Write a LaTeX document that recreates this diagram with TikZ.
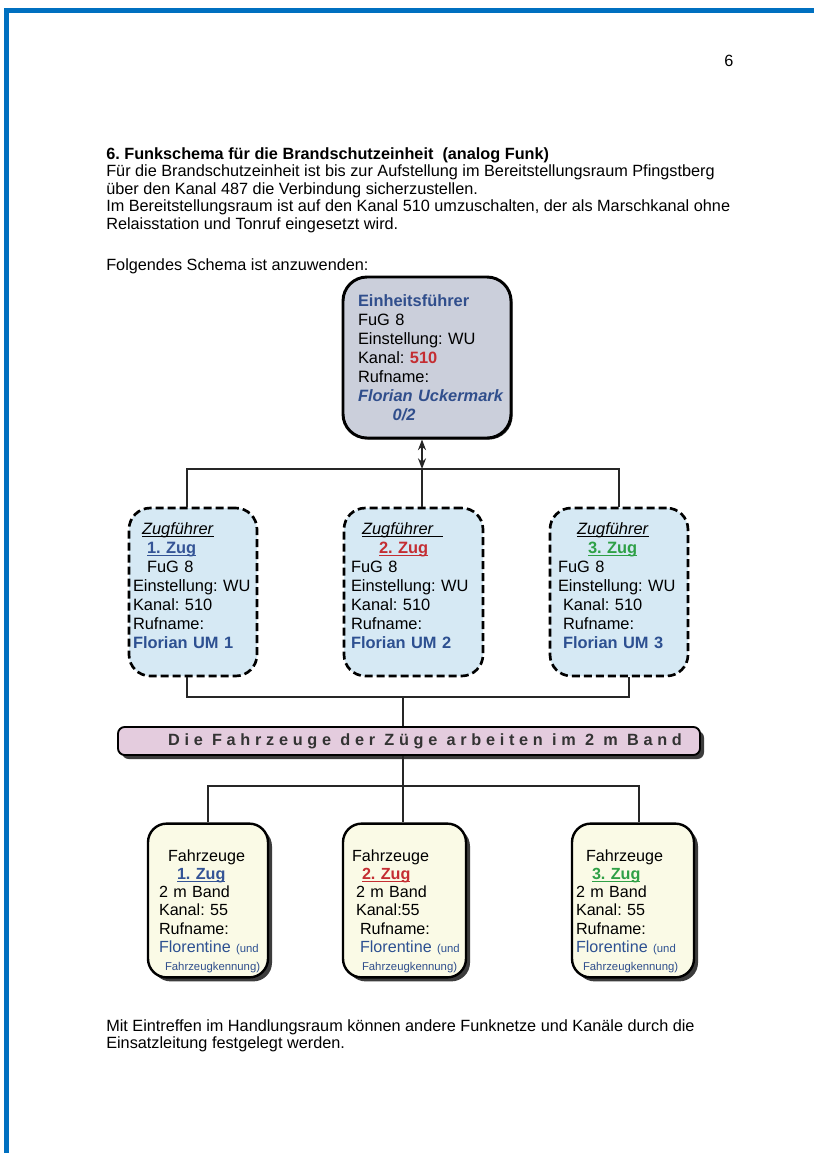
\documentclass[tikz,border=0pt]{standalone}
\usepackage{fontspec}
\setmainfont{Liberation Sans}
\usetikzlibrary{arrows.meta,shadows}
\definecolor{pageblue}{RGB}{0,112,192}
\definecolor{chefgray}{RGB}{203,207,219}
\definecolor{chefblau}{RGB}{48,78,140}
\definecolor{funkrot}{RGB}{196,45,50}
\definecolor{zugfill}{RGB}{214,233,244}
\definecolor{zugblau}{RGB}{52,84,150}
\definecolor{zuggruen}{RGB}{46,160,70}
\definecolor{florblau}{RGB}{45,80,145}
\definecolor{bandfill}{RGB}{228,204,222}
\definecolor{fzfill}{RGB}{250,250,230}
\definecolor{shadowgray}{RGB}{60,60,60}
\newcommand{\klein}{\fontsize{8.5}{10}\selectfont}
\newcommand{\unterstr}[1]{\leavevmode\setbox0=\hbox{#1}\rlap{\rule[-1.6pt]{\wd0}{0.6pt}}\box0}
\frenchspacing
\begin{document}
\begin{tikzpicture}[
    x=0.75pt,y=-0.75pt,
    bodytext/.style={inner sep=0pt,align=left,font=\fontsize{12.2}{13.125}\selectfont},
    chefbox/.style={draw,line width=2.2pt,rounded corners=18pt,fill=chefgray,align=left,
        inner xsep=11.25pt,text width=103.5pt,minimum height=120.75pt,
        font=\fontsize{12.3}{14.25}\selectfont,
        drop shadow={shadow xshift=1.2pt,shadow yshift=-1.2pt,fill=black!85,opacity=1}},
    zugbox/.style={draw,dash pattern=on 6pt off 3pt,line width=2pt,rounded corners=16pt,
        fill=zugfill,align=left,minimum height=126pt,font=\fontsize{12.3}{14.25}\selectfont},
    fzbox/.style={draw,line width=1.8pt,rounded corners=14pt,fill=fzfill,align=left,
        minimum height=111.75pt,font=\fontsize{12.1}{13.7}\selectfont,
        drop shadow={shadow xshift=3pt,shadow yshift=-3pt,fill=shadowgray,opacity=1}},
    bandbox/.style={draw,line width=1.4pt,rounded corners=5pt,fill=bandfill,
        minimum width=436.5pt,minimum height=21pt,inner sep=0pt,text=black!80,
        font=\fontsize{12.2}{14}\selectfont\bfseries\addfontfeature{LetterSpace=29},
        drop shadow={shadow xshift=3pt,shadow yshift=-3pt,fill=shadowgray,opacity=1}},
    link/.style={line width=1.5pt,draw=black!85}
]
    \useasboundingbox (0,0) rectangle (814,1153);
    \fill[white] (0,0) rectangle (814,1153);
    \fill[pageblue] (4,8) rectangle (814,13);
    \fill[pageblue] (4,8) rectangle (9,1153);

    \node[bodytext] (pagenum) at (729,61) {6};
    \node[bodytext,anchor=north west] (intro) at (106,147) {%
        \textbf{6. Funkschema für die Brandschutzeinheit\ \ (analog Funk)}\\
        Für die Brandschutzeinheit ist bis zur Aufstellung im Bereitstellungsraum Pfingstberg\\
        über den Kanal 487 die Verbindung sicherzustellen.\\
        Im Bereitstellungsraum ist auf den Kanal 510 umzuschalten, der als Marschkanal ohne\\
        Relaisstation und Tonruf eingesetzt wird.};
    \node[bodytext,anchor=north west] (schema) at (106,258) {Folgendes Schema ist anzuwenden:};
    \node[bodytext,anchor=north west] (outro) at (106,1019) {%
        Mit Eintreffen im Handlungsraum können andere Funknetze und Kanäle durch die\\
        Einsatzleitung festgelegt werden.};

    \node[chefbox] (chef) at (427,357.5) {%
        {\color{chefblau}\textbf{Einheitsführer}}\\
        FuG 8\\
        Einstellung: WU\\
        Kanal: {\color{funkrot}\textbf{510}}\\
        Rufname:\\
        \mbox{\color{chefblau}\textbf{\textit{Florian Uckermark}}}\\
        \hspace*{26pt}{\color{chefblau}\textbf{\textit{0/2}}}};

    \node[zugbox,inner xsep=3pt,text width=90pt] (zug1) at (193,592) {%
        \hspace*{6.75pt}\unterstr{\textit{Zugführer}}\\
        \hspace*{10.5pt}{\color{zugblau}\unterstr{\textbf{1. Zug}}}\\
        \hspace*{10.5pt}FuG 8\\
        \mbox{Einstellung: WU}\\
        Kanal: 510\\
        Rufname:\\
        {\color{florblau}\textbf{Florian UM 1}}\\[-5pt]\mbox{}};
    \node[zugbox,inner xsep=5.25pt,text width=93.75pt] (zug2) at (413.5,592) {%
        \hspace*{8.25pt}\unterstr{\textit{Zugführer}\hspace*{7pt}}\\
        \hspace*{21pt}{\color{funkrot}\unterstr{\textbf{2. Zug}}}\\
        FuG 8\\
        \mbox{Einstellung: WU}\\
        Kanal: 510\\
        Rufname:\\
        {\color{florblau}\textbf{Florian UM 2}}\\[-5pt]\mbox{}};
    \node[zugbox,inner xsep=6pt,text width=91.5pt] (zug3) at (619,592) {%
        \hspace*{14.25pt}\unterstr{\textit{Zugführer}}\\
        \hspace*{22.5pt}{\color{zuggruen}\unterstr{\textbf{3. Zug}}}\\
        FuG 8\\
        \mbox{Einstellung: WU}\\
        \hspace*{3.75pt}Kanal: 510\\
        \hspace*{3.75pt}Rufname:\\
        \hspace*{3.75pt}{\color{florblau}\textbf{Florian UM 3}}\\[-5pt]\mbox{}};

    \node[bandbox] (band) at (409,741) {\hspace*{24pt}Die Fahrzeuge der Züge arbeiten im 2 m Band};

    \node[fzbox,inner xsep=8.25pt,text width=73.5pt] (fz1) at (208,900.5) {%
        \mbox{}\\[11pt]
        \hspace*{6.75pt}Fahrzeuge\\
        \hspace*{13.5pt}{\color{zugblau}\unterstr{\textbf{1. Zug}}}\\
        2 m Band\\
        Kanal: 55\\
        Rufname:\\
        \mbox{{\color{florblau}Florentine} {\klein\color{florblau}(und}}\\
        \hspace*{4.5pt}\mbox{\klein\color{chefblau}Fahrzeugkennung)}};
    \node[fzbox,inner xsep=6.75pt,text width=78.75pt] (fz2) at (404.5,900.5) {%
        \mbox{}\\[11pt]
        Fahrzeuge\\
        \hspace*{7.5pt}{\color{funkrot}\unterstr{\textbf{2. Zug}}}\\
        \hspace*{3pt}2 m Band\\
        \hspace*{3pt}Kanal:55\\
        \hspace*{6pt}Rufname:\\
        \hspace*{6pt}\mbox{{\color{florblau}Florentine} {\klein\color{florblau}(und}}\\
        \hspace*{7.5pt}\mbox{\klein\color{chefblau}Fahrzeugkennung)}};
    \node[fzbox,inner xsep=3pt,text width=85.5pt] (fz3) at (633,900.5) {%
        \mbox{}\\[11pt]
        \hspace*{7.5pt}Fahrzeuge\\
        \hspace*{12pt}{\color{zuggruen}\unterstr{\textbf{3. Zug}}}\\
        2 m Band\\
        Kanal: 55\\
        Rufname:\\
        \mbox{{\color{florblau}Florentine} {\klein\color{florblau}(und}}\\
        \hspace*{5.25pt}\mbox{\klein\color{chefblau}Fahrzeugkennung)}};

    \coordinate (hub1) at (422,469);
    \coordinate (hub2) at (403,697);
    \coordinate (hub3) at (403,786);
    \draw[link,{Stealth[length=8pt,width=6pt]}-{Stealth[length=8pt,width=6pt]}]
        (chef.south -| hub1) -- (hub1);
    \draw[link] ([xshift=-4.5pt]zug1.north) |- (hub1) -| (zug3.north);
    \draw[link] (hub1) -- (hub1 |- zug2.north);
    \draw[link] ([xshift=-4.5pt]zug1.south) |- (hub2) -| ([xshift=7.5pt]zug3.south);
    \draw[link] (hub2) -- (hub2 |- band.north);
    \draw[link] (band.south -| hub3) -- (hub3);
    \draw[link] (fz1.north) |- (hub3) -| ([xshift=4.5pt]fz3.north);
    \draw[link] (hub3) -- (hub3 |- fz2.north);
\end{tikzpicture}
\end{document}
